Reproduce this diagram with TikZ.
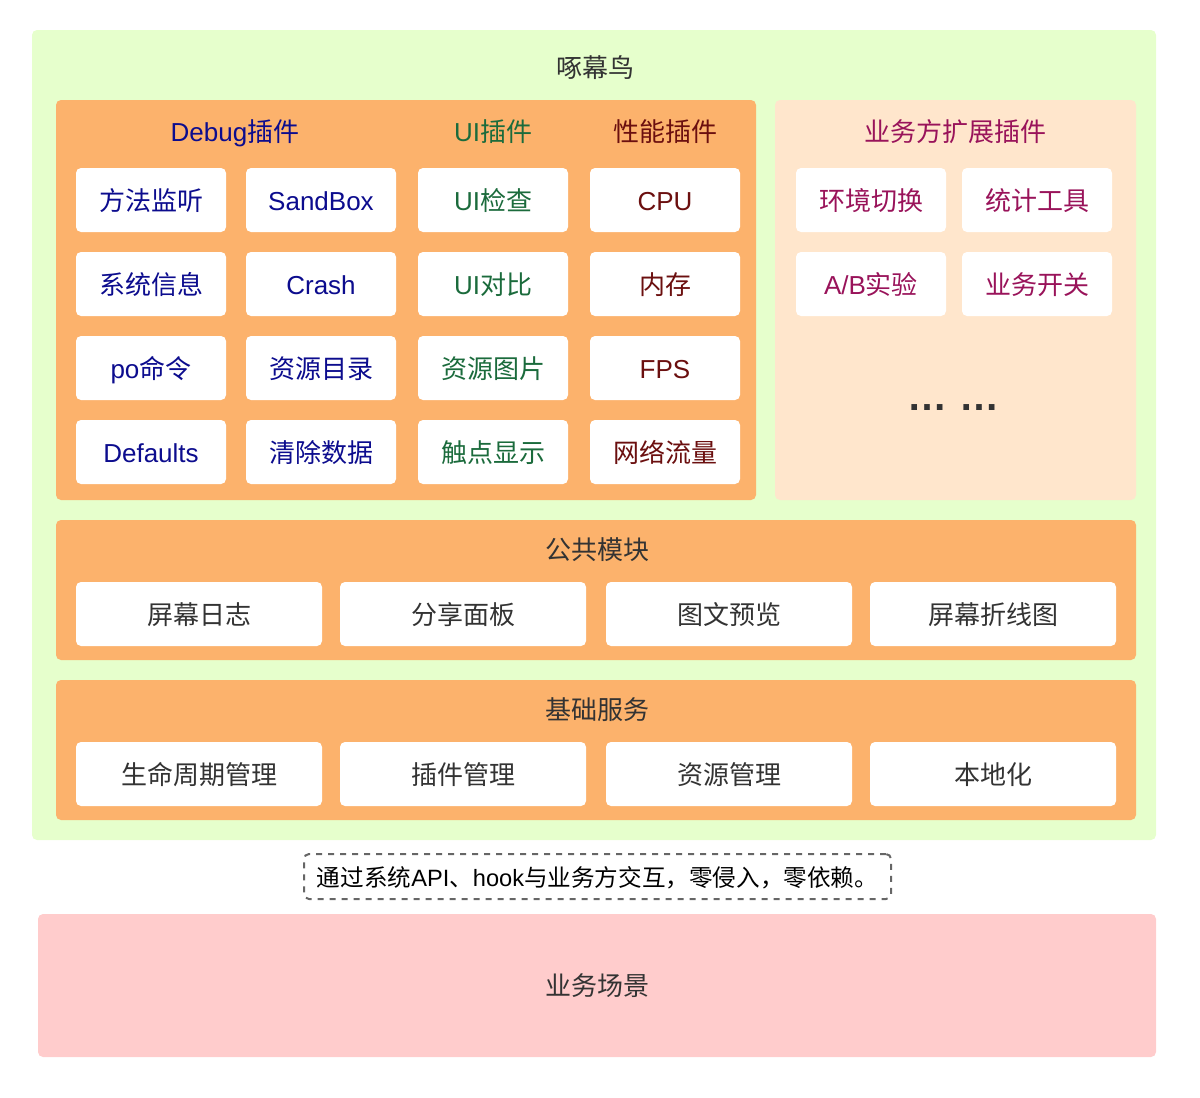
\documentclass[tikz,border=0pt]{standalone}
\usepackage{fontspec}
\setmainfont{Noto Sans CJK SC}
\newfontfamily\latin{Liberation Sans}
\usepackage{xcolor}
\usetikzlibrary{positioning}

\definecolor{lightgreen}{HTML}{E6FFCC}
\definecolor{panelorange}{HTML}{FCB26C}
\definecolor{peach}{HTML}{FFE6CC}
\definecolor{lightpink}{HTML}{FFCCCC}
\definecolor{debugblue}{HTML}{0C0C8E}
\definecolor{uigreen}{HTML}{1B6B3C}
\definecolor{perfred}{HTML}{6B0F0F}
\definecolor{bizred}{HTML}{99135A}
\definecolor{textgray}{HTML}{333333}

\begin{document}
\begin{tikzpicture}[x=0.5pt, y=-0.5pt, font=\fontsize{13}{15}\selectfont]
    \tikzstyle{panel} = [rounded corners=2.5pt, inner sep=0pt, outer sep=0pt]
    \tikzstyle{cell} = [fill=white, rounded corners=2.5pt, inner sep=0pt, outer sep=0pt,
        minimum width=75pt, minimum height=32pt, text height=11pt, text depth=1pt]
    \tikzstyle{wide} = [cell, minimum width=123pt, text=textgray]
    \tikzstyle{title} = [text height=11pt, text depth=1pt]
    \useasboundingbox (0,0) rectangle (1200,1098);

    % layers
    \node [panel, fill=lightgreen, minimum width=562pt, minimum height=405pt] at (594,435) (main) {};
    \node [panel, fill=panelorange, minimum width=350pt, minimum height=200pt] at (406,300) (builtin) {};
    \node [panel, fill=peach, minimum width=180.5pt, minimum height=200pt] at (955.5,300) (bizext) {};
    \node [panel, fill=panelorange, minimum width=540pt, minimum height=70pt] at (596,590) (common) {};
    \node [panel, fill=panelorange, minimum width=540pt, minimum height=70pt] at (596,750) (basic) {};
    \node [panel, fill=lightpink, minimum width=559pt, minimum height=71.5pt] at (597,985.5) (scene) {};
    \node [panel, draw=black!60, dashed, line width=1pt, minimum width=293.5pt, minimum height=22.5pt] at (597.5,876.5) (hint) {};

    % titles
    \node [title, text=textgray] at (595,67) (maintitle) {啄幕鸟};
    \node [title, text=debugblue] at (235,131) (debugtitle) {{\latin Debug}插件};
    \node [title, text=uigreen] at (493,131) (uititle) {{\latin UI}插件};
    \node [title, text=perfred] at (665,131) (perftitle) {性能插件};
    \node [title, text=bizred] at (955,131) (biztitle) {业务方扩展插件};
    \node [title, text=textgray] at (597,549) (commontitle) {公共模块};
    \node [title, text=textgray] at (597,709) (basictitle) {基础服务};
    \node [title, text=textgray] at (597,985) (scenetitle) {业务场景};
    \node [title, text=black, font=\fontsize{11.8}{14}\selectfont] at (hint) (hinttext) {通过系统{\latin API}、{\latin hook}与业务方交互，零侵入，零依赖。};

    % Debug plugins
    \node [cell, text=debugblue] at (151,200) (mtdlisten) {方法监听};
    \node [cell, text=debugblue, below=10pt of mtdlisten] (sysinfo) {系统信息};
    \node [cell, text=debugblue, below=10pt of sysinfo] (pocmd) {{\latin po}命令};
    \node [cell, text=debugblue, below=10pt of pocmd] (defaults) {\latin Defaults};
    \node [cell, text=debugblue, right=10pt of mtdlisten] (sandbox) {\latin SandBox};
    \node [cell, text=debugblue, right=10pt of sysinfo] (crash) {\latin Crash};
    \node [cell, text=debugblue, right=10pt of pocmd] (resdir) {资源目录};
    \node [cell, text=debugblue, right=10pt of defaults] (cleardata) {清除数据};

    % UI plugins
    \node [cell, text=uigreen, right=11pt of sandbox] (uicheck) {{\latin UI}检查};
    \node [cell, text=uigreen, right=11pt of crash] (uicompare) {{\latin UI}对比};
    \node [cell, text=uigreen, right=11pt of resdir] (resimg) {资源图片};
    \node [cell, text=uigreen, right=11pt of cleardata] (touchshow) {触点显示};

    % performance plugins
    \node [cell, text=perfred, right=11pt of uicheck] (cpu) {\latin CPU};
    \node [cell, text=perfred, right=11pt of uicompare] (memory) {内存};
    \node [cell, text=perfred, right=11pt of resimg] (fps) {\latin FPS};
    \node [cell, text=perfred, right=11pt of touchshow] (netflow) {网络流量};

    % business plugins
    \node [cell, text=bizred] at (871,200) (envswitch) {环境切换};
    \node [cell, text=bizred, right=8pt of envswitch] (stattool) {统计工具};
    \node [cell, text=bizred, below=10pt of envswitch] (abtest) {{\latin A/B}实验};
    \node [cell, text=bizred, below=10pt of stattool] (bizswitch) {业务开关};
    \node [text=textgray, font=\fontsize{20}{22}\selectfont\bfseries\latin] at (953,408) (moredots) {…\hspace{6pt}…};

    % common module
    \node [wide] at (199,614) (screenlog) {屏幕日志};
    \node [wide, right=9pt of screenlog] (sharepanel) {分享面板};
    \node [wide, right=10pt of sharepanel] (imgpreview) {图文预览};
    \node [wide, right=9pt of imgpreview] (linechart) {屏幕折线图};

    % basic services
    \node [wide] at (199,774) (lifecycle) {生命周期管理};
    \node [wide, right=9pt of lifecycle] (pluginmgr) {插件管理};
    \node [wide, right=10pt of pluginmgr] (resmgr) {资源管理};
    \node [wide, right=9pt of resmgr] (localize) {本地化};
\end{tikzpicture}
\end{document}
